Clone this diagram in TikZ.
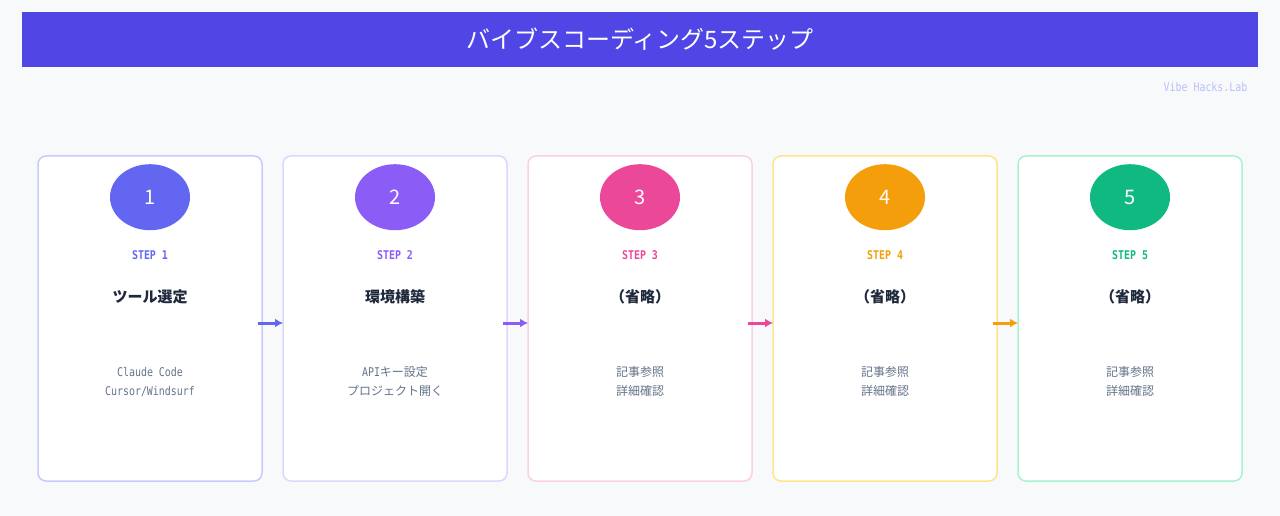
\documentclass[tikz,border=0pt]{standalone}
\usepackage{fontspec}
\setmainfont{Noto Sans CJK JP}
\newfontfamily\monofont{DejaVu Sans Mono}[FakeStretch=0.83]
\usetikzlibrary{arrows.meta,positioning,shapes.geometric}
\definecolor{bg}{HTML}{F8F9FB}
\definecolor{banner}{HTML}{4F46E5}
\definecolor{wm}{HTML}{B9C0F9}
\definecolor{ink}{HTML}{1E293B}
\definecolor{slate}{HTML}{64748B}
\definecolor{indigo}{HTML}{6366F1}
\definecolor{violet}{HTML}{8B5CF6}
\definecolor{pink}{HTML}{EC4899}
\definecolor{amber}{HTML}{F59E0B}
\definecolor{emerald}{HTML}{10B981}
\definecolor{indigoL}{HTML}{C7CBFC}
\definecolor{violetL}{HTML}{DDD6FE}
\definecolor{pinkL}{HTML}{FBCFE8}
\definecolor{amberL}{HTML}{FDE68A}
\definecolor{emeraldL}{HTML}{A7F3D0}
\begin{document}
\begin{tikzpicture}[
 x=1pt,y=-1pt,
 node distance=21pt,
 card/.style={draw,line width=1.5pt,rounded corners=8pt,fill=white,minimum width=224pt,minimum height=325pt,inner sep=0pt,outer sep=0pt},
 badge/.style={ellipse,minimum width=80pt,minimum height=66pt,inner sep=0pt,text=white,font=\fontsize{20}{20}\selectfont},
 steplab/.style={font=\monofont\bfseries\fontsize{12}{12}\selectfont},
 head/.style={text=ink,font=\bfseries\fontsize{15}{15}\selectfont},
 desc/.style={align=center,text=slate,font=\fontsize{12}{19}\selectfont},
 flow/.style={-{Latex[length=8pt,width=9pt]},line width=3pt}
]
\fill[bg] (0,0) rectangle (1280,516);
\node[fill=banner,minimum width=1236pt,minimum height=55pt,inner sep=0pt,text=white,font=\fontsize{24}{24}\selectfont] (title) at (640,39.5) {バイブスコーディング5ステップ};
\node[anchor=east,text=wm,font=\monofont\fontsize{12}{12}\selectfont] (mark) at (1251,87) {Vibe Hacks.Lab};
% cards
\node[card,draw=indigoL] (c1) at (150,318.5) {};
\node[card,draw=violetL,right=of c1] (c2) {};
\node[card,draw=pinkL,right=of c2] (c3) {};
\node[card,draw=amberL,right=of c3] (c4) {};
\node[card,draw=emeraldL,right=of c4] (c5) {};
% badges
\node[badge,fill=indigo,below=8pt of c1.north] (n1) {1};
\node[badge,fill=violet,below=8pt of c2.north] (n2) {2};
\node[badge,fill=pink,below=8pt of c3.north] (n3) {3};
\node[badge,fill=amber,below=8pt of c4.north] (n4) {4};
\node[badge,fill=emerald,below=8pt of c5.north] (n5) {5};
% labels
\node[steplab,text=indigo] (s1) at ([yshift=-99pt]c1.north) {STEP 1};
\node[steplab,text=violet] (s2) at ([yshift=-99pt]c2.north) {STEP 2};
\node[steplab,text=pink] (s3) at ([yshift=-99pt]c3.north) {STEP 3};
\node[steplab,text=amber] (s4) at ([yshift=-99pt]c4.north) {STEP 4};
\node[steplab,text=emerald] (s5) at ([yshift=-99pt]c5.north) {STEP 5};
\node[head] (h1) at ([yshift=-141pt]c1.north) {ツール選定};
\node[head] (h2) at ([yshift=-141pt]c2.north) {環境構築};
\node[head] (h3) at ([yshift=-141pt]c3.north) {（省略）};
\node[head] (h4) at ([yshift=-141pt]c4.north) {（省略）};
\node[head] (h5) at ([yshift=-141pt]c5.north) {（省略）};
\node[desc] (d1) at ([yshift=-225.5pt]c1.north) {{\monofont Claude Code}\\{\monofont Cursor/Windsurf}};
\node[desc] (d2) at ([yshift=-225.5pt]c2.north) {{\monofont API}キー設定\\プロジェクト開く};
\node[desc] (d3) at ([yshift=-225.5pt]c3.north) {記事参照\\詳細確認};
\node[desc] (d4) at ([yshift=-225.5pt]c4.north) {記事参照\\詳細確認};
\node[desc] (d5) at ([yshift=-225.5pt]c5.north) {記事参照\\詳細確認};
% arrows
\draw[flow,indigo] ([shift={(-4pt,-4.5pt)}]c1.east) -- ([yshift=-4.5pt]c2.west);
\draw[flow,violet] ([shift={(-4pt,-4.5pt)}]c2.east) -- ([yshift=-4.5pt]c3.west);
\draw[flow,pink] ([shift={(-4pt,-4.5pt)}]c3.east) -- ([yshift=-4.5pt]c4.west);
\draw[flow,amber] ([shift={(-4pt,-4.5pt)}]c4.east) -- ([yshift=-4.5pt]c5.west);
\end{tikzpicture}
\end{document}
